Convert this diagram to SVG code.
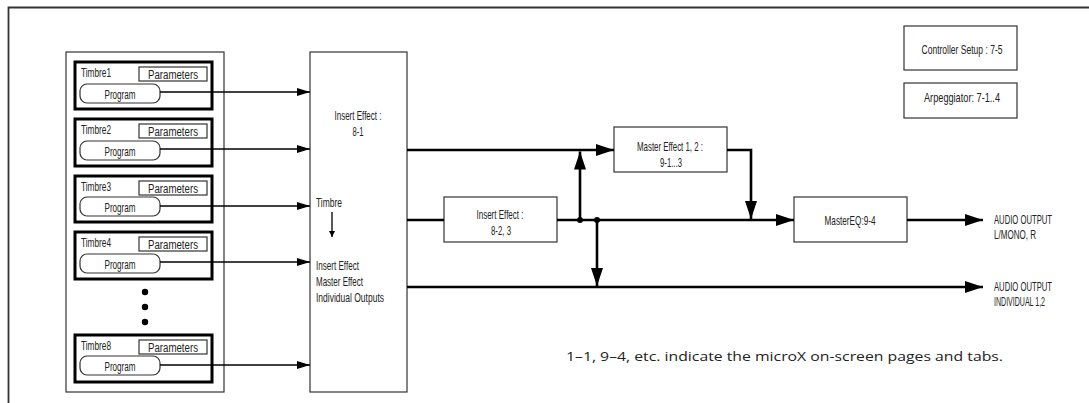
<svg xmlns="http://www.w3.org/2000/svg" width="1089" height="403" viewBox="0 0 1089 403">
<defs>
<style>
.t{font-family:"Liberation Sans",Arial,sans-serif;font-size:13px;fill:#222}
.s{font-size:12px}
.c{text-anchor:middle}
.thin{fill:#fff;stroke:#333;stroke-width:1.2}
.tb{fill:#fff;stroke:#000;stroke-width:3}
.ln{fill:none;stroke:#000;stroke-width:1.3}
.tk{fill:none;stroke:#000;stroke-width:2.6}
.note{font-family:"Open Sans","Noto Sans",sans-serif;font-size:13.5px;fill:#222}
</style>
<marker id="as" markerUnits="userSpaceOnUse" markerWidth="14" markerHeight="10" refX="13" refY="4" orient="auto"><path d="M0,0 L13,4 L0,8 Z" fill="#000"/></marker>
<marker id="ab" markerUnits="userSpaceOnUse" markerWidth="20" markerHeight="14" refX="18" refY="6" orient="auto"><path d="M0,0 L18,6 L0,12 Z" fill="#000"/></marker>
<marker id="ad" markerUnits="userSpaceOnUse" markerWidth="8" markerHeight="8" refX="6" refY="3" orient="auto"><path d="M0,0 L6,3 L0,6 Z" fill="#000"/></marker>
</defs>
<rect width="1089" height="403" fill="#fff"/>
<g id="frame"><path d="M8.5,403 V7.5 H1089" fill="none" stroke="#333" stroke-width="1.8"/></g>

<g id="timbres"><rect x="66" y="52" width="158" height="340" class="thin"/></g>

<g id="timbre1"><rect x="75" y="62" width="137" height="47" class="tb"/><text x="81" y="77" class="t" textLength="30" lengthAdjust="spacingAndGlyphs">Timbre1</text><rect x="139" y="67" width="68" height="14" class="thin"/><text x="173" y="79" class="t s c" textLength="50" lengthAdjust="spacingAndGlyphs">Parameters</text><rect x="80" y="84" width="80" height="19" rx="7" class="thin"/><text x="120" y="98.5" class="t c" textLength="31" lengthAdjust="spacingAndGlyphs">Program</text></g>
<g id="timbre2"><rect x="75" y="119" width="137" height="47" class="tb"/><text x="81" y="134" class="t" textLength="30" lengthAdjust="spacingAndGlyphs">Timbre2</text><rect x="139" y="124" width="68" height="14" class="thin"/><text x="173" y="136" class="t s c" textLength="50" lengthAdjust="spacingAndGlyphs">Parameters</text><rect x="80" y="141" width="80" height="19" rx="7" class="thin"/><text x="120" y="155.5" class="t c" textLength="31" lengthAdjust="spacingAndGlyphs">Program</text></g>
<g id="timbre3"><rect x="75" y="176" width="137" height="46" class="tb"/><text x="81" y="191" class="t" textLength="30" lengthAdjust="spacingAndGlyphs">Timbre3</text><rect x="139" y="181" width="68" height="14" class="thin"/><text x="173" y="193" class="t s c" textLength="50" lengthAdjust="spacingAndGlyphs">Parameters</text><rect x="80" y="197" width="80" height="19" rx="7" class="thin"/><text x="120" y="211.5" class="t c" textLength="31" lengthAdjust="spacingAndGlyphs">Program</text></g>
<g id="timbre4"><rect x="75" y="232" width="137" height="47" class="tb"/><text x="81" y="247" class="t" textLength="30" lengthAdjust="spacingAndGlyphs">Timbre4</text><rect x="139" y="237" width="68" height="14" class="thin"/><text x="173" y="249" class="t s c" textLength="50" lengthAdjust="spacingAndGlyphs">Parameters</text><rect x="80" y="254" width="80" height="19" rx="7" class="thin"/><text x="120" y="268.5" class="t c" textLength="31" lengthAdjust="spacingAndGlyphs">Program</text></g>
<g id="dots"><circle cx="145" cy="292" r="3.2" fill="#000"/><circle cx="145" cy="307" r="3.2" fill="#000"/><circle cx="145" cy="322" r="3.2" fill="#000"/></g>
<g id="timbre8"><rect x="75" y="335" width="137" height="47" class="tb"/><text x="81" y="350" class="t" textLength="30" lengthAdjust="spacingAndGlyphs">Timbre8</text><rect x="139" y="340" width="68" height="14" class="thin"/><text x="173" y="352" class="t s c" textLength="50" lengthAdjust="spacingAndGlyphs">Parameters</text><rect x="80" y="356" width="80" height="19" rx="7" class="thin"/><text x="120" y="370.5" class="t c" textLength="31" lengthAdjust="spacingAndGlyphs">Program</text></g>

<g id="insert1"><rect x="310" y="52" width="97" height="340" class="thin"/><text x="358" y="119.5" class="t c" textLength="47" lengthAdjust="spacingAndGlyphs">Insert Effect :</text><text x="358" y="135.5" class="t c" textLength="11" lengthAdjust="spacingAndGlyphs">8-1</text><text x="316" y="206.5" class="t" textLength="26" lengthAdjust="spacingAndGlyphs">Timbre</text><text x="316" y="269.5" class="t" textLength="43" lengthAdjust="spacingAndGlyphs">Insert Effect</text><text x="316" y="285.5" class="t" textLength="47" lengthAdjust="spacingAndGlyphs">Master Effect</text><text x="316" y="301.5" class="t" textLength="68" lengthAdjust="spacingAndGlyphs">Individual Outputs</text></g>
<g id="insert2"><rect x="444" y="197" width="113" height="45" class="thin"/><text x="500" y="218.5" class="t c" textLength="47" lengthAdjust="spacingAndGlyphs">Insert Effect :</text><text x="501" y="234.5" class="t c" textLength="20" lengthAdjust="spacingAndGlyphs">8-2, 3</text></g>
<g id="master"><rect x="614" y="127" width="113" height="45" class="thin"/><text x="670" y="150.5" class="t c" textLength="66" lengthAdjust="spacingAndGlyphs">Master Effect 1, 2 :</text><text x="671" y="166.5" class="t c" textLength="22" lengthAdjust="spacingAndGlyphs">9-1...3</text></g>
<g id="mastereq"><rect x="794" y="197" width="113" height="45" class="thin"/><text x="850" y="224.5" class="t c" textLength="51" lengthAdjust="spacingAndGlyphs">MasterEQ:9-4</text></g>
<g id="controller"><rect x="904" y="26" width="113" height="44" class="thin"/><text x="962" y="53.5" class="t c" textLength="81" lengthAdjust="spacingAndGlyphs">Controller Setup : 7-5</text></g>
<g id="arp"><rect x="904" y="83" width="113" height="35" class="thin"/><text x="962" y="101.5" class="t c" textLength="76" lengthAdjust="spacingAndGlyphs">Arpeggiator: 7-1..4</text></g>
<g id="out1"><text x="994" y="223.5" class="t s" textLength="58" lengthAdjust="spacingAndGlyphs">AUDIO OUTPUT</text><text x="994" y="238.5" class="t s" textLength="42" lengthAdjust="spacingAndGlyphs">L/MONO, R</text></g>
<g id="out2"><text x="994" y="290.5" class="t s" textLength="58" lengthAdjust="spacingAndGlyphs">AUDIO OUTPUT</text><text x="994" y="305.5" class="t s" textLength="51" lengthAdjust="spacingAndGlyphs">INDIVIDUAL 1,2</text></g>

<g id="connectors">
<path d="M160,92 H310" class="ln" marker-end="url(#as)"/>
<path d="M160,149 H310" class="ln" marker-end="url(#as)"/>
<path d="M160,206 H310" class="ln" marker-end="url(#as)"/>
<path d="M160,262 H310" class="ln" marker-end="url(#as)"/>
<path d="M160,365 H310" class="ln" marker-end="url(#as)"/>
<path d="M332,212 V237" class="ln" marker-end="url(#ad)"/>
<path d="M407,150 H614" class="tk" marker-end="url(#ab)"/>
<path d="M407,220 H444" class="tk"/>
<path d="M557,220 H794" class="tk" marker-end="url(#ab)"/>
<path d="M580,220 V151.5" class="tk" marker-end="url(#ab)"/>
<path d="M597,220 V286" class="tk" marker-end="url(#ab)"/>
<path d="M727,150 H751 V219" class="tk" marker-end="url(#ab)"/>
<path d="M407,287 H983" class="tk" marker-end="url(#ab)"/>
<path d="M907,220 H983" class="tk" marker-end="url(#ab)"/>
<circle cx="580" cy="220" r="3" fill="#000"/>
<circle cx="597" cy="220" r="3" fill="#000"/>
</g>
<text x="566" y="361" class="note" textLength="437" lengthAdjust="spacingAndGlyphs">1–1, 9–4, etc. indicate the microX on-screen pages and tabs.</text>
</svg>
